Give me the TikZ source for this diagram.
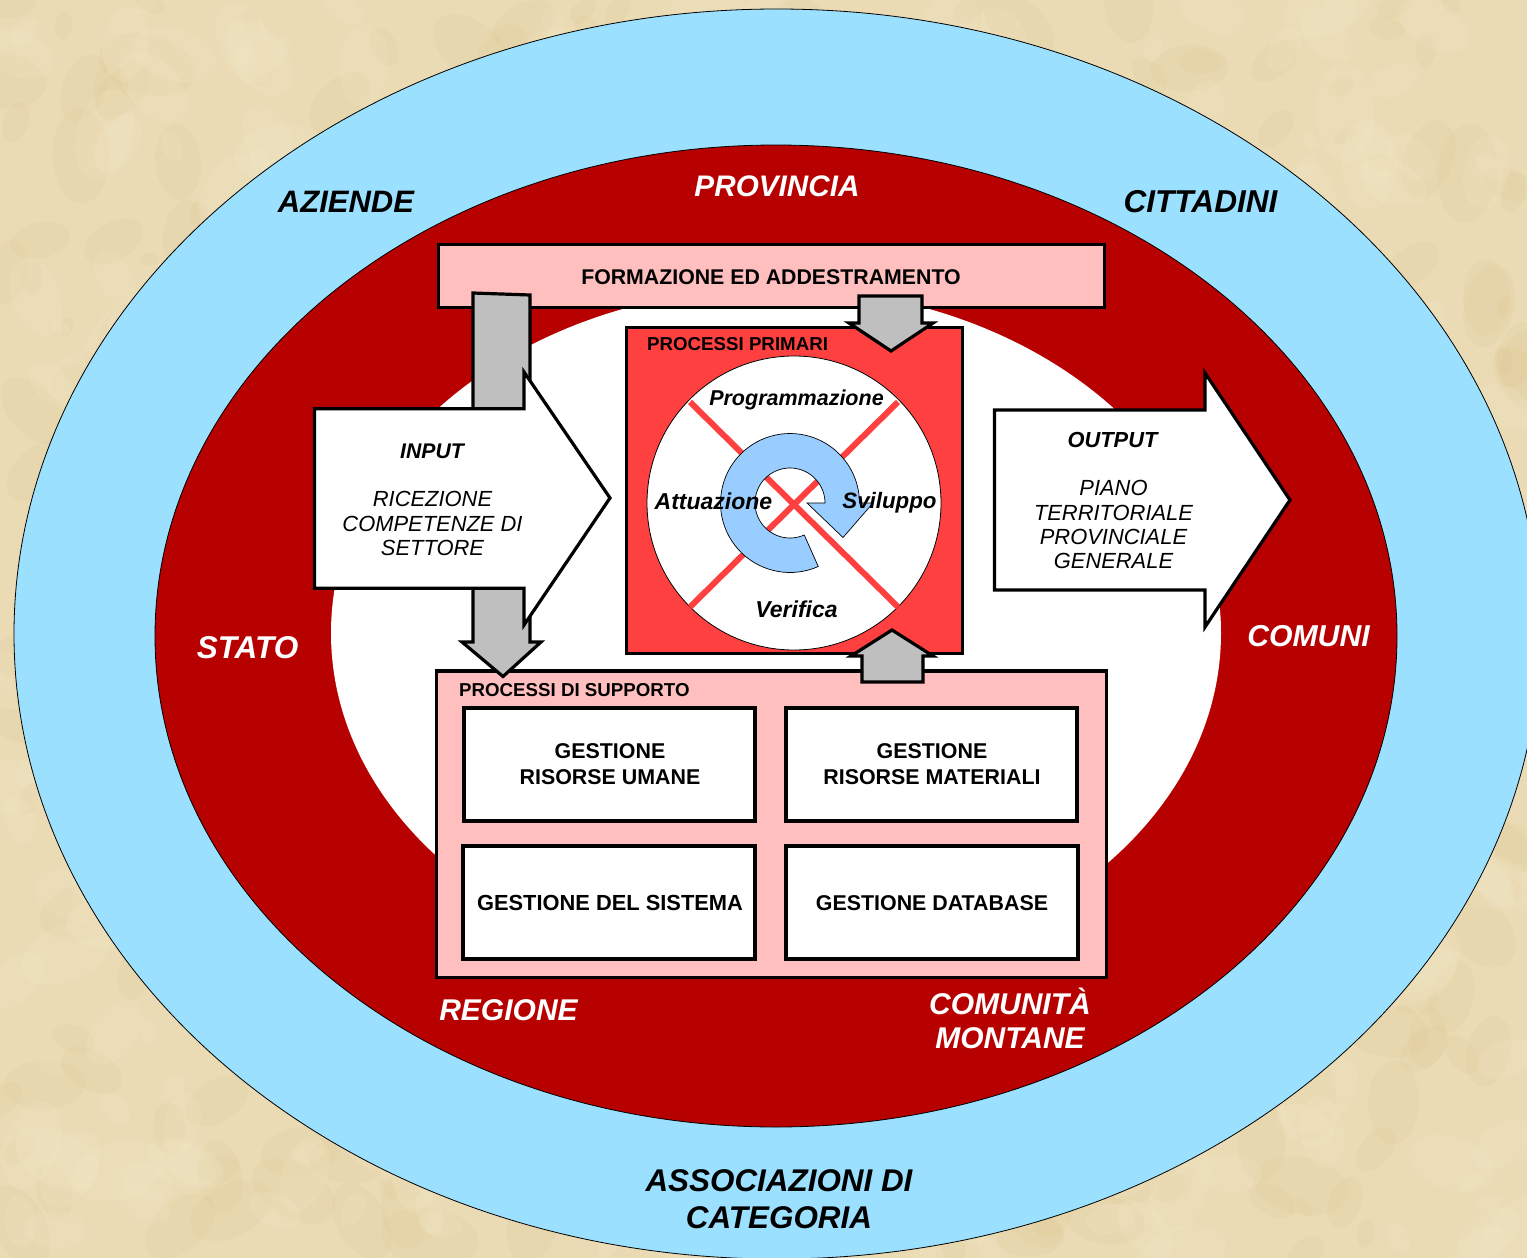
\documentclass[tikz,border=0pt]{standalone}
\usepackage{fontspec}
\setmainfont{Liberation Sans}
\definecolor{parch}{HTML}{EADBB4}
\definecolor{parchd}{HTML}{D9BF86}
\definecolor{parchl}{HTML}{F6EDCF}
\definecolor{skyb}{HTML}{9CE0FF}
\definecolor{darkr}{HTML}{B70000}
\definecolor{pinkb}{HTML}{FFBFBF}
\definecolor{redb}{HTML}{FF4040}
\definecolor{greya}{HTML}{BFBFBF}
\definecolor{loopb}{HTML}{99CCFF}
\newcommand{\fsz}[1]{\fontsize{#1}{#1}\selectfont}
\tikzset{
  x=1pt,y=-1pt,
  ringlabel/.style={align=center,inner sep=0pt},
  outerlabel/.style={ringlabel,text=black},
  innerlabel/.style={ringlabel,text=white},
  boxlab/.style={align=center,inner sep=0pt,font=\fsz{21.4}\bfseries},
  smalllab/.style={anchor=west,inner sep=0pt,font=\fsz{18.7}\bfseries},
  stagelab/.style={inner sep=0pt},
  arrowtext/.style={align=center,inner sep=0pt,font=\fsz{21.9}\itshape},
  thickline/.style={draw=black,line width=3.2pt,line join=miter},
  greyarrow/.style={thickline,fill=greya},
}
\begin{document}
\begin{tikzpicture}
\useasboundingbox (0,0) rectangle (1527,1258);
\clip (0,0) rectangle (1527,1258);
% parchment background
\fill[parch] (0,0) rectangle (1527,1258);
\pgfmathsetseed{11}
\foreach \i in {1,...,420}{
  \pgfmathsetmacro{\px}{rnd*1527}
  \pgfmathsetmacro{\py}{rnd*1258}
  \pgfmathsetmacro{\pr}{10+rnd*40}
  \pgfmathsetmacro{\rot}{rnd*180}
  \fill[parchd,opacity=0.12,rotate around={\rot:(\px,\py)}] (\px,\py) ellipse [x radius=\pr pt,y radius=0.6*\pr pt];
}
\foreach \i in {1,...,420}{
  \pgfmathsetmacro{\px}{rnd*1527}
  \pgfmathsetmacro{\py}{rnd*1258}
  \pgfmathsetmacro{\pr}{10+rnd*40}
  \pgfmathsetmacro{\rot}{rnd*180}
  \fill[parchl,opacity=0.16,rotate around={\rot:(\px,\py)}] (\px,\py) ellipse [x radius=\pr pt,y radius=0.6*\pr pt];
}
% rings
\draw[black,line width=0.8pt,fill=skyb] (777,634) ellipse [x radius=763pt,y radius=625pt];
\draw[black,line width=0.8pt,fill=darkr] (776,636) ellipse [x radius=621pt,y radius=491pt];
\fill[white] (776,633) ellipse [x radius=445pt,y radius=345pt];
% outer labels
\node[outerlabel,font=\fsz{31}\bfseries\itshape] (aziende) at (346,202) {AZIENDE};
\node[outerlabel,font=\fsz{31.6}\bfseries\itshape] (cittadini) at (1200.5,202) {CITTADINI};
\node[outerlabel,font=\fsz{31.4}\bfseries\itshape] (assoc) at (779,1199) {ASSOCIAZIONI DI\\[5pt]CATEGORIA};
\node[innerlabel,font=\fsz{29.7}\bfseries\itshape] (provincia) at (777,186) {PROVINCIA};
\node[innerlabel,font=\fsz{31.5}\bfseries\itshape] (stato) at (247.5,648) {STATO};
\node[innerlabel,font=\fsz{30.2}\bfseries\itshape] (comuni) at (1308.5,636) {COMUNI};
\node[innerlabel,font=\fsz{30}\bfseries\itshape] (regione) at (508.5,1010) {REGIONE};
\node[innerlabel,font=\fsz{30}\bfseries\itshape] (montane) at (1010,1018.5) {COMUNITÀ\\[4pt]MONTANE};
% boxes
\draw[thickline,fill=pinkb] (438.7,244.7) rectangle (1104.7,307.7);
\node[boxlab,font=\fsz{21.3}\bfseries] (formaz) at (771,277) {FORMAZIONE ED ADDESTRAMENTO};
\draw[thickline,fill=pinkb] (436.7,671) rectangle (1106.7,977.7);
\node[smalllab] (supp) at (459,690) {PROCESSI DI SUPPORTO};
\draw[thickline,fill=white] (464,708) rectangle (755,821);
\draw[thickline,fill=white] (786,708) rectangle (1077,821);
\draw[thickline,fill=white] (463,846) rectangle (755,959);
\draw[thickline,fill=white] (786,846) rectangle (1078,959);
\node[boxlab] (g1) at (610,764.2) {GESTIONE\\[4pt]RISORSE UMANE};
\node[boxlab] (g2) at (932,764.2) {GESTIONE\\[4pt]RISORSE MATERIALI};
\node[boxlab,font=\fsz{21.85}\bfseries] (g3) at (610,903) {GESTIONE DEL SISTEMA};
\node[boxlab] (g4) at (932,903) {GESTIONE DATABASE};
% primary box
\draw[thickline,fill=redb] (626.7,327.7) rectangle (962.3,653.3);
\node[smalllab] (prim) at (647,344) {PROCESSI PRIMARI};
\draw[black,line width=0.8pt,fill=white] (794,503) circle [radius=147pt];
\draw[redb,line width=6pt] (690,402) -- (898,607);
\draw[redb,line width=6pt] (898,402) -- (690,607);
% loop arrow
\draw[black,line width=0.7pt,fill=loopb,line join=miter]
  plot[domain=66:360,samples=70] ({790+69.5*cos(\x)},{503+69.5*sin(\x)})
  -- (873,503) -- (843,537.5) -- (807,503) -- (825,503)
  -- plot[domain=360:66,samples=70] ({790+35*cos(\x)},{503+35*sin(\x)}) -- cycle;
\node[stagelab,font=\fsz{21.5}\bfseries\itshape] (prog) at (796.5,400) {Programmazione};
\node[stagelab,font=\fsz{23}\bfseries\itshape] (attu) at (713.5,501) {Attuazione};
\node[stagelab,font=\fsz{22.3}\bfseries\itshape] (svil) at (889.5,503) {Sviluppo};
\node[stagelab,font=\fsz{23}\bfseries\itshape] (veri) at (796.5,609) {Verifica};
% grey arrows
\draw[greyarrow] (473,293) -- (530,295) -- (530,642) -- (541,642) -- (503,676.5) -- (462,642) -- (473,642) -- cycle;
\draw[greyarrow] (859,296) -- (922,296) -- (922,323) -- (933,323) -- (891,351) -- (849,323) -- (859,323) -- cycle;
\draw[greyarrow] (862,682) -- (923,682) -- (923,656) -- (933,656) -- (892,630) -- (851,656) -- (862,656) -- cycle;
% input / output
\draw[thickline,fill=white] (314.5,408.7) -- (524,408.7) -- (524,372) -- (610,498) -- (524,625) -- (524,588.3) -- (314.5,588.3) -- cycle;
\draw[thickline,fill=white] (994.5,410) -- (1205,410) -- (1205,373) -- (1290,500) -- (1205,627) -- (1205,590) -- (994.5,590) -- cycle;
\node[arrowtext,font=\fsz{21.2}\bfseries\itshape] (inp) at (432,451) {INPUT};
\node[arrowtext] (ric) at (432.5,523.5) {RICEZIONE\\[2.6pt]COMPETENZE DI\\[2.6pt]SETTORE};
\node[arrowtext,font=\fsz{21.8}\bfseries\itshape] (out) at (1112.5,440) {OUTPUT};
\node[arrowtext] (piano) at (1113.5,524.8) {PIANO\\[2.4pt]TERRITORIALE\\[2.4pt]PROVINCIALE\\[2.4pt]GENERALE};
\end{tikzpicture}
\end{document}
